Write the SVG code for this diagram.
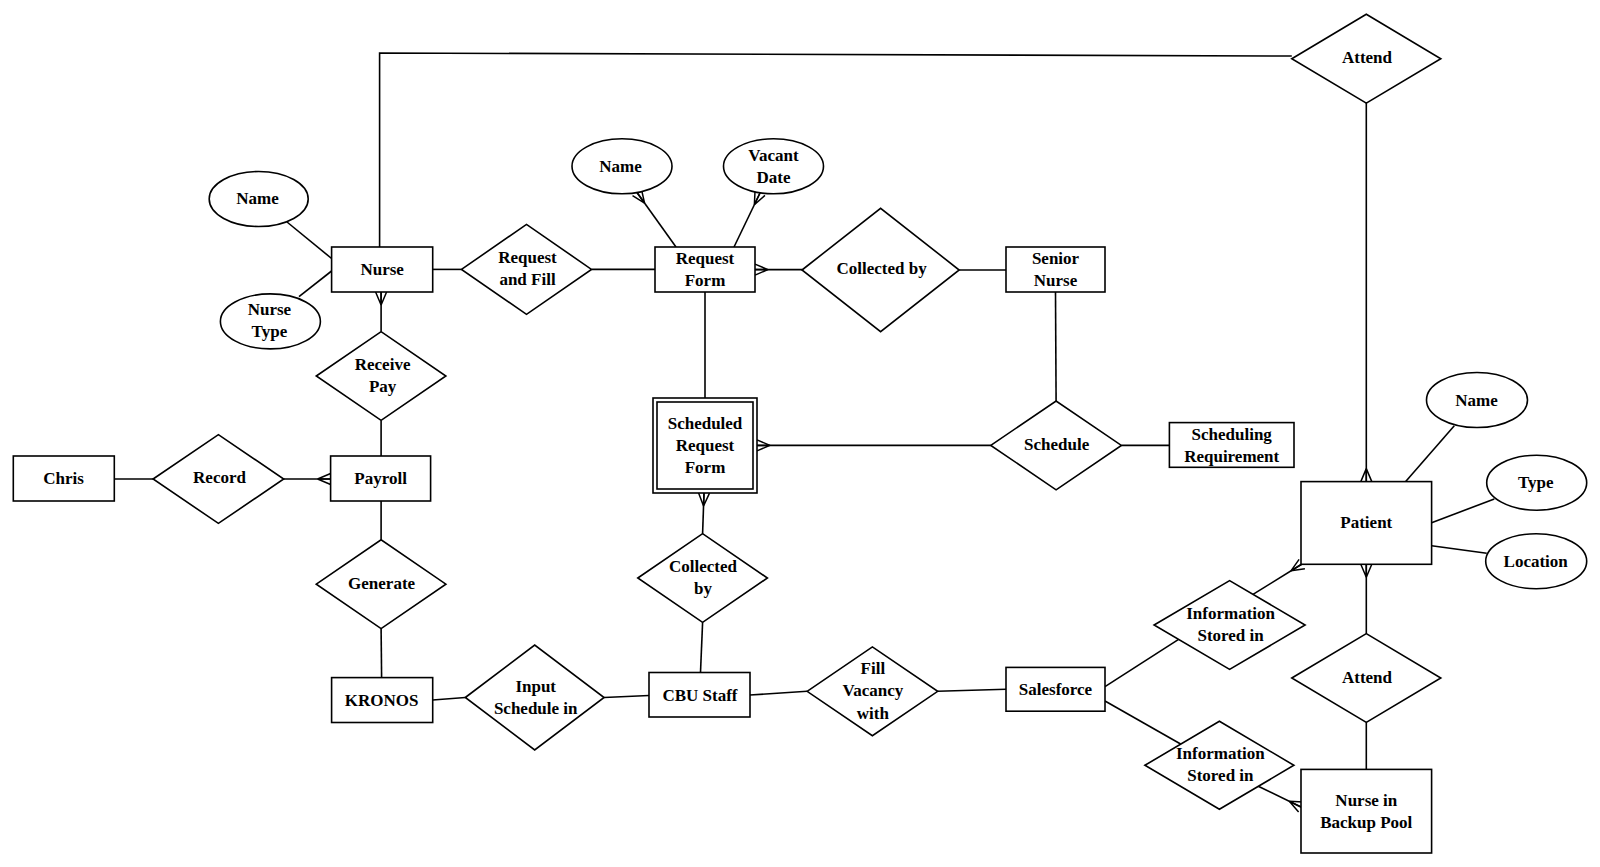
<svg xmlns="http://www.w3.org/2000/svg" width="1600" height="867" viewBox="0 0 1600 867">
<style>
rect, polygon, ellipse { fill: #fff; stroke: #000; stroke-width: 1.6; }
line, polyline { stroke: #000; stroke-width: 1.6; fill: none; }
text { font-family: "Liberation Serif", "Times New Roman", serif; font-weight: bold; font-size: 17px; text-anchor: middle; dominant-baseline: central; fill: #000; }
.cf { marker-end: url(#crow); }
</style>
<defs>
<marker id="crow" markerWidth="14" markerHeight="14" refX="13" refY="7" orient="auto" markerUnits="userSpaceOnUse" overflow="visible">
<path d="M0,7 L13,1.5 M0,7 L13,7 M0,7 L13,12.5" fill="none" stroke="#000" stroke-width="1.5"/>
</marker>
</defs>
<rect x="0" y="0" width="1600" height="867" style="fill:#fff;stroke:none"/>
<g id="connectors">
<polyline points="379.6,247 379.6,53 1291.8,56"/>
<line x1="287" y1="222" x2="331.6" y2="258.5"/>
<line x1="299" y1="296.7" x2="331.6" y2="271"/>
<line x1="432.7" y1="269.4" x2="461.5" y2="269.4"/>
<line x1="591.5" y1="269.4" x2="655" y2="269.4"/>
<line class="cf" x1="676" y1="247" x2="637" y2="192.5"/>
<line class="cf" x1="734" y1="247" x2="760" y2="193"/>
<line class="cf" x1="802" y1="269.6" x2="755" y2="269.6"/>
<line x1="959.2" y1="270" x2="1006" y2="270"/>
<line x1="1055.5" y1="292" x2="1056.1" y2="401"/>
<line x1="705" y1="292" x2="705" y2="398"/>
<line class="cf" x1="990.8" y1="445.4" x2="757" y2="445.4"/>
<line x1="1121.4" y1="445.4" x2="1169.4" y2="445.4"/>
<line class="cf" x1="702.6" y1="533.6" x2="704" y2="493"/>
<line x1="702.6" y1="622.4" x2="700.5" y2="672.5"/>
<line class="cf" x1="381.1" y1="331.6" x2="381.1" y2="292"/>
<line x1="381.1" y1="420.4" x2="381.1" y2="456"/>
<line x1="114.3" y1="479" x2="153.1" y2="479"/>
<line class="cf" x1="283.7" y1="479" x2="330.6" y2="479"/>
<line x1="381.1" y1="501" x2="381.1" y2="539.8"/>
<line x1="381.1" y1="628.6" x2="381.6" y2="677.6"/>
<line x1="432.7" y1="700" x2="465.3" y2="697.5"/>
<line x1="604.1" y1="697.5" x2="649" y2="695.5"/>
<line x1="750" y1="695" x2="807.1" y2="691.3"/>
<line x1="937.7" y1="691.3" x2="1006" y2="689.3"/>
<line x1="1105" y1="686.7" x2="1178.6" y2="639.4"/>
<line class="cf" x1="1253" y1="594.4" x2="1302" y2="564"/>
<line x1="1105" y1="701" x2="1180.6" y2="744"/>
<line class="cf" x1="1258.3" y1="786.3" x2="1301" y2="807"/>
<line class="cf" x1="1366.3" y1="103.1" x2="1366.3" y2="481.6"/>
<line class="cf" x1="1366.3" y1="633.6" x2="1366.3" y2="564.3"/>
<line x1="1366.3" y1="722.4" x2="1366.3" y2="769.4"/>
<line x1="1405.7" y1="481.6" x2="1454.3" y2="425.7"/>
<line x1="1431.6" y1="522.7" x2="1494.3" y2="499"/>
<line x1="1431.6" y1="545.7" x2="1486.7" y2="553.3"/>
</g>
<g id="nurse"><rect x="331.6" y="247" width="101.1" height="45"/><text x="382.2" y="269.4">Nurse</text></g>
<g id="nurse-name"><ellipse cx="258.7" cy="199" rx="49.5" ry="27.5"/><text x="257.5" y="198">Name</text></g>
<g id="nurse-type"><ellipse cx="270.4" cy="321.4" rx="50" ry="27.5"/><text x="269.4" y="309.5">Nurse</text><text x="269.4" y="331.5">Type</text></g>
<g id="request-and-fill"><polygon points="461.5,269.4 526.5,224.4 591.5,269.4 526.5,314.4"/><text x="527.5" y="257.5">Request</text><text x="527.5" y="279.5">and Fill</text></g>
<g id="request-form"><rect x="655" y="247" width="100" height="45"/><text x="705" y="258.5">Request</text><text x="705" y="280.5">Form</text></g>
<g id="rf-name"><ellipse cx="622" cy="166.3" rx="50" ry="27.5"/><text x="620.5" y="166">Name</text></g>
<g id="vacant-date"><ellipse cx="773.5" cy="166.3" rx="50" ry="27.5"/><text x="773.5" y="155.5">Vacant</text><text x="773.5" y="177.5">Date</text></g>
<g id="collected-by"><polygon points="802,270 880.6,208.3 959.2,270 880.6,331.7"/><text x="881.6" y="268.5">Collected by</text></g>
<g id="senior-nurse"><rect x="1006" y="247" width="99" height="45"/><text x="1055.5" y="258.5">Senior</text><text x="1055.5" y="280.5">Nurse</text></g>
<g id="attend-top"><polygon points="1291.8,58.7 1366.3,14.3 1440.8,58.7 1366.3,103.1"/><text x="1367" y="57.5">Attend</text></g>
<g id="receive-pay"><polygon points="316.3,376 381.1,331.6 445.9,376 381.1,420.4"/><text x="382.6" y="364.5">Receive</text><text x="382.6" y="386.5">Pay</text></g>
<g id="chris"><rect x="13.3" y="456" width="101" height="45"/><text x="63.5" y="478.6">Chris</text></g>
<g id="record"><polygon points="153.1,479 218.4,434.6 283.7,479 218.4,523.4"/><text x="219.5" y="477.6">Record</text></g>
<g id="payroll"><rect x="330.6" y="456" width="100" height="45"/><text x="380.6" y="478.6">Payroll</text></g>
<g id="generate"><polygon points="316.3,584.2 381.1,539.8 445.9,584.2 381.1,628.6"/><text x="381.6" y="583.7">Generate</text></g>
<g id="kronos"><rect x="331.6" y="677.6" width="101.1" height="44.9"/><text x="381.6" y="700">KRONOS</text></g>
<g id="input-schedule-in"><polygon points="465.3,697.5 534.7,645 604.1,697.5 534.7,750"/><text x="535.7" y="686.7">Input</text><text x="535.7" y="708.5">Schedule in</text></g>
<g id="cbu-staff"><rect x="649" y="672.5" width="101" height="44.5"/><text x="700" y="695">CBU Staff</text></g>
<g id="collected-by-2"><polygon points="637.8,578 702.6,533.6 767.4,578 702.6,622.4"/><text x="703" y="566.5">Collected</text><text x="703" y="588.5">by</text></g>
<g id="scheduled-request-form"><rect x="653" y="398" width="104" height="95"/><rect x="657" y="402" width="96" height="87"/><text x="705" y="423">Scheduled</text><text x="705" y="445">Request</text><text x="705" y="467">Form</text></g>
<g id="schedule"><polygon points="990.8,445.4 1056.1,401 1121.4,445.4 1056.1,489.8"/><text x="1056.6" y="444">Schedule</text></g>
<g id="scheduling-requirement"><rect x="1169.4" y="422.6" width="124.6" height="44.7"/><text x="1231.7" y="434">Scheduling</text><text x="1231.7" y="456">Requirement</text></g>
<g id="fill-vacancy-with"><polygon points="807.1,691.3 872.4,646.9 937.7,691.3 872.4,735.7"/><text x="872.9" y="668.5">Fill</text><text x="872.9" y="690.8">Vacancy</text><text x="872.9" y="713.3">with</text></g>
<g id="salesforce"><rect x="1006" y="667.4" width="99" height="43.8"/><text x="1055.5" y="689">Salesforce</text></g>
<g id="info-stored-1"><polygon points="1154.1,625 1229.6,580.6 1305.1,625 1229.6,669.4"/><text x="1230.6" y="613.5">Information</text><text x="1230.6" y="635.7">Stored in</text></g>
<g id="info-stored-2"><polygon points="1144.9,765.3 1219.4,721.3 1293.9,765.3 1219.4,809.3"/><text x="1220.4" y="753">Information</text><text x="1220.4" y="775.5">Stored in</text></g>
<g id="patient"><rect x="1301" y="481.6" width="130.6" height="82.7"/><text x="1366.3" y="522.5">Patient</text></g>
<g id="patient-name"><ellipse cx="1477" cy="400" rx="50.5" ry="27.5"/><text x="1476.6" y="400">Name</text></g>
<g id="patient-type"><ellipse cx="1536.7" cy="482.7" rx="50" ry="27.5"/><text x="1535.7" y="482.7">Type</text></g>
<g id="patient-location"><ellipse cx="1536.2" cy="561.2" rx="50.5" ry="27.5"/><text x="1535.7" y="561.2">Location</text></g>
<g id="attend-bottom"><polygon points="1291.8,678 1366.3,633.6 1440.8,678 1366.3,722.4"/><text x="1367" y="677.6">Attend</text></g>
<g id="nurse-backup-pool"><rect x="1301" y="769.4" width="130.6" height="83.6"/><text x="1366.3" y="800.5">Nurse in</text><text x="1366.3" y="822.5">Backup Pool</text></g>
</svg>
